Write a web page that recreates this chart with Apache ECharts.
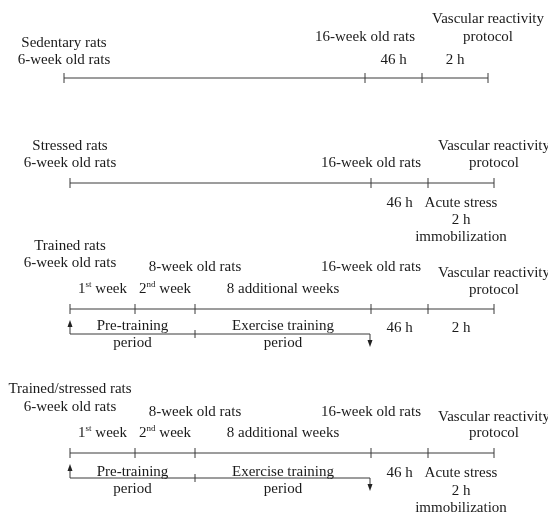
<!DOCTYPE html>
<html><head><meta charset="utf-8">
<script src="https://cdn.jsdelivr.net/npm/echarts@6/dist/echarts.min.js"></script>
<style>html,body{margin:0;padding:0;background:#fff}#c{width:548px;height:514px}</style>
</head><body><div id="c"></div>
<script>
// ---- Data: timeline milestones (schematic positions) per protocol ----
const sedentaryTicks = [64, 365, 422, 488];
const stressedTicks = [70, 371, 428, 494];
const trainedTicks = [70, 135, 195, 371, 428, 494];
const trainedStressedTicks = [70, 135, 195, 371, 428, 494];
const timelineRows = [78, 183, 309, 453];

// labels: [text, tickIndexA, tickIndexB, offset from timeline]
const sedentaryLabels = [
  ['Vascular reactivity', 3, 3, -59], ['protocol', 3, 3, -41],
  ['16-week old rats', 1, 1, -41], ['Sedentary rats', 0, 0, -35],
  ['6-week old rats', 0, 0, -18], ['46 h', 1, 2, -18], ['2 h', 2, 3, -18]
];
const stressedLabels = [
  ['Stressed rats', 0, 0, -37], ['6-week old rats', 0, 0, -20],
  ['16-week old rats', 1, 1, -20], ['Vascular reactivity', 3, 3, -37], ['protocol', 3, 3, -20],
  ['46 h', 1, 2, 20], ['Acute stress', 2, 3, 20], ['2 h', 2, 3, 37], ['immobilization', 2, 3, 54]
];
const trainedLabels = [
  ['Trained rats', 0, 0, -63], ['6-week old rats', 0, 0, -46],
  ['8-week old rats', 2, 2, -42], ['16-week old rats', 3, 3, -42],
  ['Vascular reactivity', 5, 5, -36], ['protocol', 5, 5, -19],
  ['1{sup|st} week', 0, 1, -20], ['2{sup|nd} week', 1, 2, -20], ['8 additional weeks', 2, 3, -20],
  ['Pre-training', 0, 2, 17], ['period', 0, 2, 34],
  ['Exercise training', 2, 3, 17], ['period', 2, 3, 34],
  ['46 h', 3, 4, 19], ['2 h', 4, 5, 19]
];
const trainedStressedLabels = [
  ['Trained/stressed rats', 0, 0, -64], ['6-week old rats', 0, 0, -46],
  ['8-week old rats', 2, 2, -41], ['16-week old rats', 3, 3, -41],
  ['Vascular reactivity', 5, 5, -36], ['protocol', 5, 5, -20],
  ['1{sup|st} week', 0, 1, -20], ['2{sup|nd} week', 1, 2, -20], ['8 additional weeks', 2, 3, -20],
  ['Pre-training', 0, 2, 19], ['period', 0, 2, 36],
  ['Exercise training', 2, 3, 19], ['period', 2, 3, 36],
  ['46 h', 3, 4, 20], ['Acute stress', 4, 5, 20], ['2 h', 4, 5, 38], ['immobilization', 4, 5, 55]
];

const panels = [
  {ticks: sedentaryTicks, labels: sedentaryLabels, bracket: false},
  {ticks: stressedTicks, labels: stressedLabels, bracket: false},
  {ticks: trainedTicks, labels: trainedLabels, bracket: true},
  {ticks: trainedStressedTicks, labels: trainedStressedLabels, bracket: true}
];

// ---- Build geometry in data space ----
const TICK = 5, BRK = 25, UP_TIP = 11, DOWN_TIP = 38;
const segs = [], heads = [], texts = [];
panels.forEach((p, i) => {
  const y = timelineRows[i], t = p.ticks;
  segs.push([t[0], y, t[t.length - 1], y]);
  t.forEach(x => segs.push([x, y - TICK, x, y + TICK]));
  if (p.bracket) {
    const yb = y + BRK, xe = t[3] - 1;
    segs.push([t[0], yb, xe, yb]);
    segs.push([t[2], yb - 4, t[2], yb + 4]);
    segs.push([t[0], yb, t[0], y + UP_TIP + 3]);
    segs.push([xe, yb, xe, y + DOWN_TIP - 3]);
    heads.push([t[0], y + UP_TIP, -1]);
    heads.push([xe, y + DOWN_TIP, 1]);
  }
  p.labels.forEach(l => texts.push([(t[l[1]] + t[l[2]]) / 2, y + l[3], l[0]]));
});

const chart = echarts.init(document.getElementById('c'), null, {renderer: 'canvas'});
const LINE = '#3a3a3a', TXT = '#1a1a1a';
const FONT = 'Liberation Serif, Times New Roman, serif';
chart.setOption({
  animation: false,
  grid: {left: 0, right: 0, top: 0, bottom: 0},
  xAxis: {type: 'value', min: 0, max: 548, show: false},
  yAxis: {type: 'value', min: 0, max: 514, inverse: true, show: false},
  series: [
    {
      type: 'custom', data: segs,
      renderItem: (params, api) => {
        const a = api.coord([api.value(0), api.value(1)]);
        const b = api.coord([api.value(2), api.value(3)]);
        return {type: 'line', shape: {x1: a[0], y1: a[1], x2: b[0], y2: b[1]},
          style: {stroke: LINE, lineWidth: 1}};
      }
    },
    {
      type: 'custom', data: heads,
      renderItem: (params, api) => {
        const c = api.coord([api.value(0), api.value(1)]);
        const d = api.value(2);
        return {type: 'polygon', shape: {points: [[c[0], c[1]], [c[0] - 2.5, c[1] - d * 7], [c[0] + 2.5, c[1] - d * 7]]},
          style: {fill: '#222'}};
      }
    },
    {
      type: 'custom', data: texts.map(t => [t[0], t[1]]),
      renderItem: (params, api) => {
        const c = api.coord([api.value(0), api.value(1)]);
        return {type: 'text', x: c[0], y: c[1],
          style: {text: texts[params.dataIndex][2], fill: TXT, fontFamily: FONT, fontSize: 15,
            align: 'center', verticalAlign: 'middle', lineHeight: 17,
            rich: {sup: {fontSize: 9, fontFamily: FONT, fill: TXT, verticalAlign: 'top', lineHeight: 17, padding: [0, 0, 6, 0]}}}};
      }
    }
  ]
});
</script></body></html>
